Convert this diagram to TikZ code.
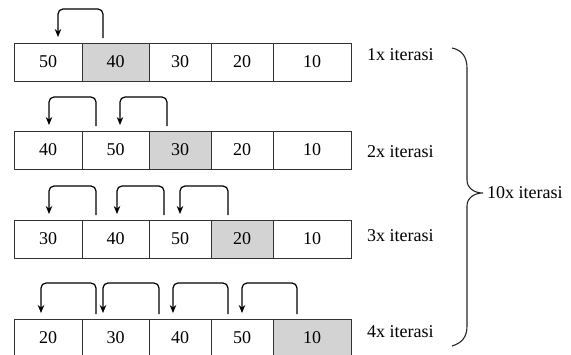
\documentclass[tikz,border=0pt]{standalone}
\usepackage{fontspec}
\setmainfont{Liberation Serif}
\usetikzlibrary{arrows.meta}
\definecolor{shade}{HTML}{D3D3D3}
\definecolor{edge}{HTML}{333333}
\tikzset{
  cell/.style={draw=edge, line width=0.9pt, minimum height=38pt, inner sep=0pt,
    font=\fontsize{18}{20}\selectfont},
  hot/.style={cell, fill=shade},
  lbl/.style={anchor=west, inner sep=0pt, font=\fontsize{18}{20}\selectfont},
  hop/.style={line width=1.2pt, rounded corners=5pt, -{Stealth[length=8pt,width=6.5pt]}}
}
\begin{document}
\begin{tikzpicture}[x=1pt,y=-1pt]
\clip (0,0) rectangle (571,354);
\fill[white] (0,0) rectangle (571,354);

% Row 1 (top 43)
\node[cell, minimum width=68pt] (a1) at (48,62) {50};
\node[hot,  minimum width=67pt] (a2) at (115.5,62) {40};
\node[cell, minimum width=62pt] (a3) at (180,62) {30};
\node[cell, minimum width=62pt] (a4) at (242,62) {20};
\node[cell, minimum width=78pt] (a5) at (312,62) {10};

% Row 2 (top 131)
\node[cell, minimum width=68pt] (b1) at (48,150) {40};
\node[cell, minimum width=67pt] (b2) at (115.5,150) {50};
\node[hot,  minimum width=62pt] (b3) at (180,150) {30};
\node[cell, minimum width=62pt] (b4) at (242,150) {20};
\node[cell, minimum width=78pt] (b5) at (312,150) {10};

% Row 3 (top 220)
\node[cell, minimum width=68pt] (c1) at (48,239) {30};
\node[cell, minimum width=67pt] (c2) at (115.5,239) {40};
\node[cell, minimum width=62pt] (c3) at (180,239) {50};
\node[hot,  minimum width=62pt] (c4) at (242,239) {20};
\node[cell, minimum width=78pt] (c5) at (312,239) {10};

% Row 4 (top 319)
\node[cell, minimum width=68pt] (d1) at (48,338) {20};
\node[cell, minimum width=67pt] (d2) at (115.5,338) {30};
\node[cell, minimum width=62pt] (d3) at (180,338) {40};
\node[cell, minimum width=62pt] (d4) at (242,338) {50};
\node[hot,  minimum width=78pt] (d5) at (312,338) {10};

% Arrows row 1
\coordinate (a2t) at (103,38); \coordinate (a1h) at (58,37);
\draw[hop] (a2t) |- (80,9) -| (a1h);

% Arrows row 2
\coordinate (b2t) at (96,126); \coordinate (b1h) at (49,125);
\coordinate (b3t) at (167,126); \coordinate (b2h) at (120,125);
\draw[hop] (b2t) |- (72,97) -| (b1h);
\draw[hop] (b3t) |- (143,97) -| (b2h);

% Arrows row 3
\coordinate (c2t) at (96,215); \coordinate (c1h) at (49,214);
\coordinate (c3t) at (164,215); \coordinate (c2h) at (117,214);
\coordinate (c4t) at (228,215); \coordinate (c3h) at (180,214);
\draw[hop] (c2t) |- (72,186) -| (c1h);
\draw[hop] (c3t) |- (140,186) -| (c2h);
\draw[hop] (c4t) |- (204,186) -| (c3h);

% Arrows row 4
\coordinate (d2t) at (96,314); \coordinate (d1h) at (41,313);
\coordinate (d3t) at (159,314); \coordinate (d2h) at (103,313);
\coordinate (d4t) at (228,314); \coordinate (d3h) at (173,313);
\coordinate (d5t) at (297,314); \coordinate (d4h) at (242,313);
\draw[hop] (d2t) |- (68,283) -| (d1h);
\draw[hop] (d3t) |- (131,283) -| (d2h);
\draw[hop] (d4t) |- (200,283) -| (d3h);
\draw[hop] (d5t) |- (270,283) -| (d4h);

% Labels
\node[lbl] (l1) at (367,55) {1x iterasi};
\node[lbl] (l2) at (367,152) {2x iterasi};
\node[lbl] (l3) at (367,236) {3x iterasi};
\node[lbl] (l4) at (367,332) {4x iterasi};

% Brace
\draw[line width=1.1pt, black!85]
  (452,48) .. controls (462,50) and (467,57) .. (467,68)
  -- (467,180) .. controls (467,188) and (474,193) .. (483,193)
  .. controls (474,193) and (467,198) .. (467,206)
  -- (467,326) .. controls (467,337) and (462,343) .. (452,346);
\node[lbl] (tot) at (487,193) {10x iterasi};
\end{tikzpicture}
\end{document}
